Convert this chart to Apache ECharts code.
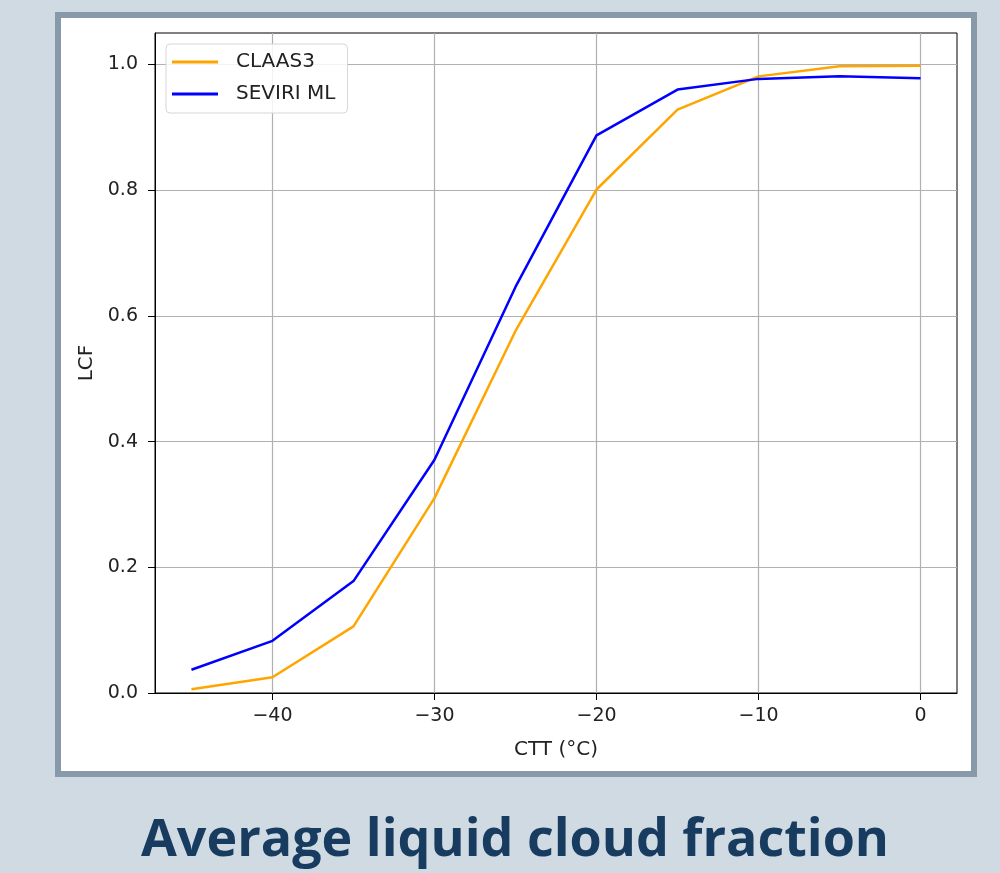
<!DOCTYPE html>
<html>
<head>
<meta charset="utf-8">
<script src="https://cdn.jsdelivr.net/npm/echarts@6/dist/echarts.min.js"></script>
<style>
html, body { margin: 0; padding: 0; background: #d0dae2; }
#main { width: 1000px; height: 873px; }
</style>
</head>
<body>
<div id="main"></div>
<script>
// data
var ctt = [-45, -40, -35, -30, -25, -20, -15, -10, -5, 0];
var claas3 = [0.006, 0.025, 0.106, 0.31, 0.576, 0.801, 0.928, 0.981, 0.997, 0.998];
var seviriMl = [0.037, 0.083, 0.178, 0.371, 0.646, 0.887, 0.960, 0.977, 0.981, 0.978];
var xTicks = [-40, -30, -20, -10, 0];
var yTicks = [0, 0.2, 0.4, 0.6, 0.8, 1.0];

var chart = echarts.init(document.getElementById('main'));

function pairs(xs, ys) {
    var out = [];
    for (var i = 0; i < xs.length; i++) {
        out.push([xs[i], ys[i]]);
    }
    return out;
}

var font = 'DejaVu Sans';

var option = {
    backgroundColor: '#d0dae2',
    animation: false,
    graphic: [
        {
            type: 'rect',
            z: -10,
            shape: { x: 58, y: 15, width: 916, height: 759 },
            style: { fill: '#ffffff', stroke: '#8899a9', lineWidth: 6 }
        },
        {
            type: 'text',
            z: 10,
            style: {
                x: 515, y: 841,
                text: 'Average liquid cloud fraction',
                textAlign: 'center',
                textVerticalAlign: 'middle',
                fill: '#183c60',
                font: 'bold 52px "Open Sans", sans-serif'
            }
        }
    ],
    grid: {
        left: 155, right: 43, top: 33, bottom: 180,
        show: true, borderColor: '#000', borderWidth: 1,
        backgroundColor: 'transparent'
    },
    legend: {
        left: 166, top: 44,
        orient: 'vertical',
        padding: [8, 12, 9, 6],
        itemGap: 12,
        itemWidth: 46,
        itemHeight: 3,
        icon: 'rect',
        backgroundColor: 'rgba(255,255,255,0.85)',
        borderColor: '#d6d6d6',
        borderWidth: 1,
        borderRadius: 4,
        textStyle: { fontFamily: font, fontSize: 20, color: '#222', padding: [0, 0, 0, 13] },
        data: ['CLAAS3', 'SEVIRI ML']
    },
    xAxis: {
        type: 'value',
        min: -47.25,
        max: 2.25,
        name: 'CTT (°C)',
        nameLocation: 'middle',
        nameGap: 47,
        nameTextStyle: { fontFamily: font, fontSize: 20, color: '#222' },
        axisLine: { show: true, onZero: false, lineStyle: { color: '#000' } },
        axisTick: { show: true, length: 7, customValues: xTicks, lineStyle: { color: '#000' } },
        axisLabel: {
            customValues: xTicks,
            fontFamily: font, fontSize: 19, color: '#222', margin: 14,
            formatter: function (v) { return v < 0 ? '\u2212' + Math.abs(v) : String(v); }
        },
        splitLine: { show: true, lineStyle: { color: '#b0b0b0', width: 1.2 } }
    },
    yAxis: {
        type: 'value',
        min: 0,
        max: 1.05,
        name: 'LCF',
        nameLocation: 'middle',
        nameGap: 58,
        nameRotate: 90,
        nameTextStyle: { fontFamily: font, fontSize: 20, color: '#222' },
        axisLine: { show: true, onZero: false, lineStyle: { color: '#000' } },
        axisTick: { show: true, length: 7, customValues: yTicks, lineStyle: { color: '#000' } },
        axisLabel: {
            customValues: yTicks,
            fontFamily: font, fontSize: 19, color: '#222', margin: 17,
            formatter: function (v) { return v.toFixed(1); }
        },
        splitLine: { show: true, lineStyle: { color: '#b0b0b0', width: 1.2 } }
    },
    series: [
        {
            name: 'CLAAS3',
            type: 'line',
            data: pairs(ctt, claas3),
            showSymbol: false,
            color: '#ffa500',
            lineStyle: { width: 2.5, color: '#ffa500' }
        },
        {
            name: 'SEVIRI ML',
            type: 'line',
            data: pairs(ctt, seviriMl),
            showSymbol: false,
            color: '#0000ff',
            lineStyle: { width: 2.5, color: '#0000ff' }
        }
    ]
};

chart.setOption(option);
</script>
</body>
</html>
